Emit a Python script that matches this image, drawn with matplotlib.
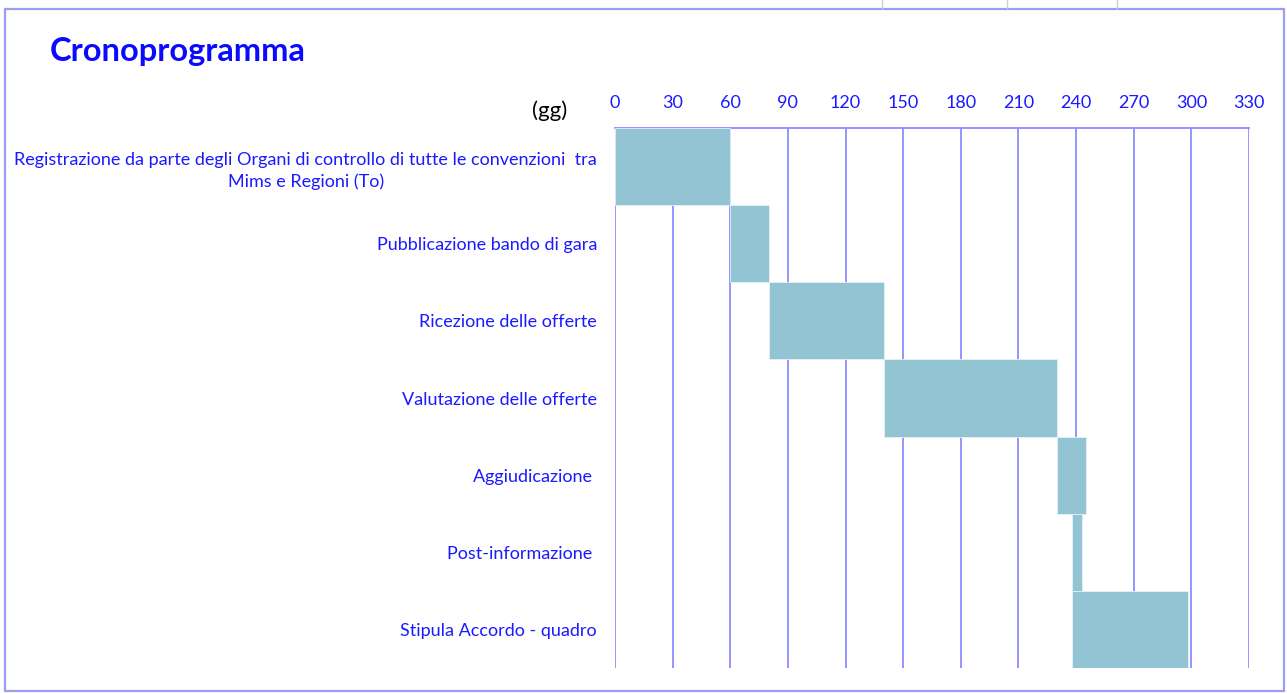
import matplotlib.pyplot as plt
from matplotlib.patches import Rectangle
from matplotlib.lines import Line2D

plt.rcParams['font.family'] = ['Lato', 'DejaVu Sans']

# activities (top to bottom), start day and end day
tasks = ['Registrazione da parte degli Organi di controllo di tutte le convenzioni  tra\nMims e Regioni (To)',
         'Pubblicazione bando di gara',
         'Ricezione delle offerte',
         'Valutazione delle offerte',
         'Aggiudicazione ',
         'Post-informazione ',
         'Stipula Accordo - quadro']
start = [0, 60, 80, 140, 230, 238, 238]
end = [60, 80, 140, 230, 245, 243, 298]
xticks = list(range(0, 331, 30))

bar_color = '#92c4d4'
line_color = '#8c8cff'
text_blue = '#1a1aff'

fig = plt.figure(figsize=(12.87, 6.93), dpi=100)
ax = fig.add_axes([615/1287, 1 - 668/693, 634/1287, 540/693])

widths = [e - s for s, e in zip(start, end)]
ypos = list(range(len(tasks)))
ax.barh(ypos, widths, left=start, height=1.0, color=bar_color,
        edgecolor='#e6f1f5', linewidth=0.6, zorder=3)

ax.set_xlim(0, 330)
ax.set_ylim(len(tasks) - 0.5, -0.5)
ax.set_xticks(xticks)
ax.xaxis.tick_top()
ax.tick_params(axis='x', length=0, pad=12, labelsize=13, labelcolor=text_blue)
ax.set_yticks(ypos)
ax.set_yticklabels(tasks, multialignment='center', linespacing=1.45)
ax.tick_params(axis='y', length=0, pad=13, labelsize=13, labelcolor=text_blue)

for x in xticks:
    ax.axvline(x, color=line_color, linewidth=1.3, zorder=1)
for side in ['left', 'right', 'bottom']:
    ax.spines[side].set_visible(False)
ax.spines['top'].set_color(line_color)
ax.spines['top'].set_linewidth(1.3)

fig.text(550/1287, 1 - 111/693, '(gg)', fontsize=16, color='black',
         ha='center', va='center')
fig.text(50/1287, 1 - 52/693, 'Cronoprogramma', fontsize=23.5, fontweight='bold',
         color='#0a0aff', ha='left', va='center')

# outer frame
fig.patches.append(Rectangle((5/1287, 2/693), 1279/1287, 682/693,
                             transform=fig.transFigure, fill=False,
                             edgecolor='#9c9cf5', linewidth=1.6))
# bits of spreadsheet grid above the frame
for px in [882, 1007, 1117]:
    fig.lines.append(Line2D([px/1287, px/1287], [1 - 8/693, 1.0],
                            transform=fig.transFigure, color='#d0d0d0', linewidth=1))

fig.savefig('out.png', dpi=100)
